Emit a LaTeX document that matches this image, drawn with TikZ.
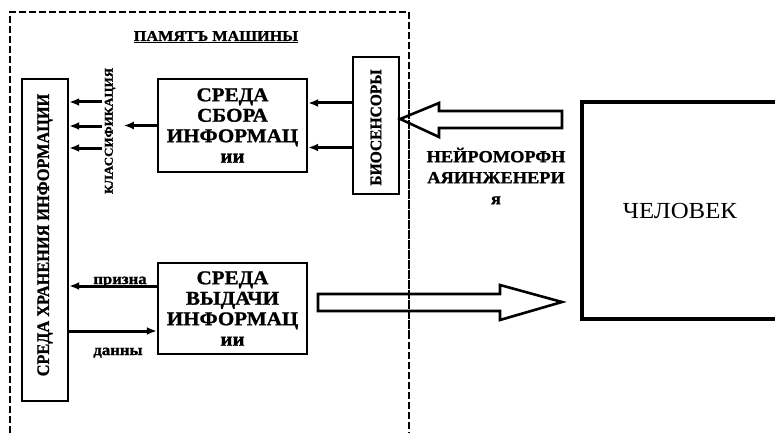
\documentclass[tikz,border=0pt]{standalone}
\usepackage{fontspec}
\setmainfont{Liberation Serif}[FakeStretch=1.08,BoldFeatures={FakeBold=1.2}]
\usetikzlibrary{arrows.meta,calc}
\tikzset{
  box/.style={draw,line width=2.4pt,inner sep=0pt,align=center},
  arr/.style={line width=3pt,-{Latex[length=10pt,width=8pt]}},
  hollow/.style={draw,line width=2.6pt,line join=miter},
  border/.style={line width=1.8pt,dash pattern=on 7pt off 3pt},
  boxtxt/.style={font=\fontsize{19.5}{20.5}\selectfont\bfseries},
}
\begin{document}
\begin{tikzpicture}[x=1pt,y=-1pt]
\useasboundingbox (0,0) rectangle (775,433);
% nodes
\node[box,minimum width=46pt,minimum height=322pt] (storage) at (45,240) {};
\node[rotate=90,font=\fontsize{17.5}{18}\selectfont\bfseries\addfontfeatures{FakeStretch=0.93}] (storagetxt) at (45,235) {СРЕДА ХРАНЕНИЯ ИНФОРМАЦИИ};
\node[box,boxtxt,minimum width=149pt,minimum height=93pt] (collect) at (232.5,125.5) {СРЕДА\\СБОРА\\ИНФОРМАЦ\\ии};
\node[box,minimum width=46pt,minimum height=137pt] (bio) at (376,125.5) {};
\node[rotate=90,font=\fontsize{16}{18}\selectfont\bfseries\addfontfeatures{FakeStretch=0.97}] (biotxt) at (376,127.5) {БИОСЕНСОРЫ};
\node[box,boxtxt,minimum width=149pt,minimum height=91pt] (output) at (232.5,308.5) {СРЕДА\\ВЫДАЧИ\\ИНФОРМАЦ\\ии};
\node[draw,line width=3.2pt,minimum width=196pt,minimum height=217pt,font=\fontsize{23}{24}\selectfont] (human) at (680,210.5) {ЧЕЛОВЕК};
\node[font=\fontsize{15}{17}\selectfont\bfseries] (title) at (216,37) {\underline{ПАМЯТЪ МАШИНЫ}};
\node[rotate=90,font=\fontsize{12}{14}\selectfont\bfseries] (klass) at (110,131) {КЛАССИФИКАЦИЯ};
\node[align=center,font=\fontsize{17}{21}\selectfont\bfseries] (neuro) at (496,176) {НЕЙРОМОРФН\\АЯИНЖЕНЕРИ\\я};
\node[font=\fontsize{15.5}{16}\selectfont\bfseries,anchor=base] (priz) at (120,284) {призна};
\node[font=\fontsize{15.5}{16}\selectfont\bfseries,anchor=base] (dann) at (118,355) {данны};
% dashed memory border
\draw[border] (10,433) -- (10,12) -- (409,12) -- (409,433);
% arrows bio -> collect
\draw[arr] ([yshift=22.5pt]bio.west) -- ([yshift=22.5pt]collect.east);
\draw[arr] ([yshift=-22pt]bio.west) -- ([yshift=-22pt]collect.east);
% collect -> classification
\draw[arr] (collect.west) -- ++(-33,0);
% classification -> storage
\coordinate (k1) at (102,102);
\coordinate (k2) at (102,126);
\coordinate (k3) at (102,148);
\draw[arr] (k1) -- (k1 -| storage.east);
\draw[arr] (k2) -- (k2 -| storage.east);
\draw[arr] (k3) -- (k3 -| storage.east);
% output <-> storage
\draw[arr] ([yshift=22.5pt]output.west) -- ([yshift=22.5pt]output.west -| storage.east);
\draw[arr] ([yshift=-22.5pt]output.west -| storage.east) -- ([yshift=-22.5pt]output.west);
% hollow arrows
\draw[hollow] (562,111) -- (439,111) -- (439,103) -- ($(bio.east)+(0,-6.5)$) -- (439,137) -- (439,128) -- (562,128) -- cycle;
\draw[hollow] (318,294) -- (500,294) -- (500,285) -- (562,302) -- (500,320) -- (500,311) -- (318,311) -- cycle;
% dashed line over arrows
\draw[border] (409,90) -- (409,340);
\end{tikzpicture}
\end{document}
